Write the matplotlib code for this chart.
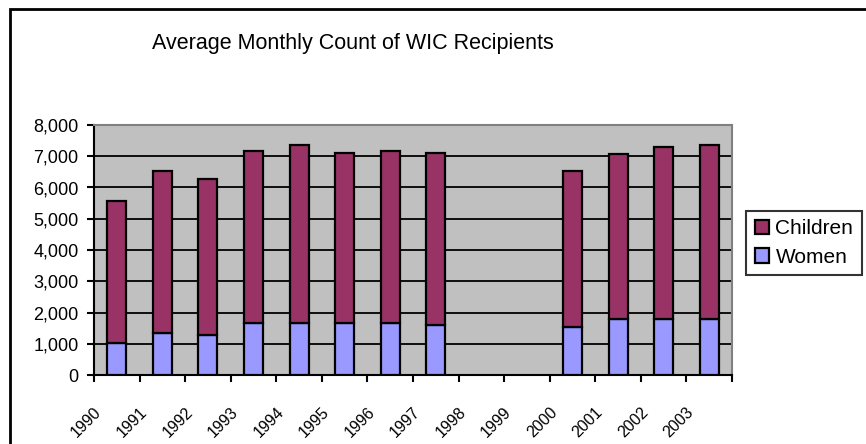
import numpy as np
import matplotlib
matplotlib.use("Agg")
import matplotlib.pyplot as plt
from matplotlib.patches import Rectangle
from matplotlib.transforms import ScaledTranslation

plt.rcParams["font.family"] = ["Liberation Sans", "DejaVu Sans"]

# ------------------------------------------------------------
# DATA
# ------------------------------------------------------------
years = ["1990", "1991", "1992", "1993", "1994", "1995", "1996",
         "1997", "1998", "1999", "2000", "2001", "2002", "2003"]
women = [1040, 1355, 1290, 1670, 1660, 1660, 1660,
         1600, np.nan, np.nan, 1525, 1790, 1790, 1790]
children = [4540, 5175, 4995, 5510, 5710, 5445, 5520,
            5505, np.nan, np.nan, 5005, 5270, 5515, 5580]

CHILD_COLOR = "#993366"
WOMEN_COLOR = "#9999FF"

# ------------------------------------------------------------
# FIGURE
# ------------------------------------------------------------
W, H, DPI = 866, 444, 100
fig = plt.figure(figsize=(W / DPI, H / DPI), dpi=DPI)

# outer chart frame (runs off the right/bottom edge like the original)
fig.patches.append(Rectangle((10 / W, -0.1), 1.2, 1 - 9 / H + 0.1,
                             transform=fig.transFigure, fill=False,
                             edgecolor="black", linewidth=2))

ax = fig.add_axes([94 / W, 69 / H, 638 / W, 250 / H])
ax.set_facecolor("#C0C0C0")

x = np.arange(len(years))
mask = ~np.isnan(np.array(women, dtype=float))
w = np.array(women, dtype=float)[mask]
c = np.array(children, dtype=float)[mask]

ax.bar(x[mask], w, width=0.42, color=WOMEN_COLOR, edgecolor="black",
       linewidth=1.6, label="Women", zorder=3)
ax.bar(x[mask], c, bottom=w, width=0.42, color=CHILD_COLOR,
       edgecolor="black", linewidth=1.6, label="Children", zorder=3)

ax.set_xlim(-0.5, len(years) - 0.5)
ax.set_ylim(0, 8000)
ax.set_yticks(range(0, 8001, 1000))
ax.set_yticklabels([f"{v:,}" for v in range(0, 8001, 1000)], fontsize=13)
ax.yaxis.grid(True, color="black", linewidth=1.3, zorder=1)
ax.set_axisbelow(True)

# ticks on category boundaries, labels drawn separately
ax.set_xticks(np.arange(len(years) + 1) - 0.5)
ax.set_xticklabels([])
ax.tick_params(axis="both", direction="out", length=5, width=1.5,
               color="black")
ax.tick_params(axis="y", pad=6)

offset = ScaledTranslation(5 / DPI, -35 / DPI, fig.dpi_scale_trans)
trans = ax.get_xaxis_transform() + offset
for i, yr in enumerate(years):
    ax.text(i - 0.5, 0, yr, transform=trans, rotation=45,
            rotation_mode="anchor", ha="right", va="center",
            fontsize=11.5)

for side in ["top", "right"]:
    ax.spines[side].set_color("#808080")
    ax.spines[side].set_linewidth(1.5)
for side in ["left", "bottom"]:
    ax.spines[side].set_color("black")
    ax.spines[side].set_linewidth(1.5)

fig.text(353 / W, 1 - 43 / H, "Average Monthly Count of WIC Recipients",
         ha="center", va="center", fontsize=15.5)

handles, labels = ax.get_legend_handles_labels()
leg = fig.legend(handles[::-1], labels[::-1], loc="center",
                 bbox_to_anchor=(804 / W, 1 - 243 / H), fontsize=15,
                 frameon=True, fancybox=False, edgecolor="black",
                 handlelength=0.7, handleheight=0.7, handletextpad=0.3,
                 labelspacing=0.45, borderpad=0.4, borderaxespad=0)
leg.get_frame().set_linewidth(1.5)

fig.savefig("out.png", dpi=DPI)
